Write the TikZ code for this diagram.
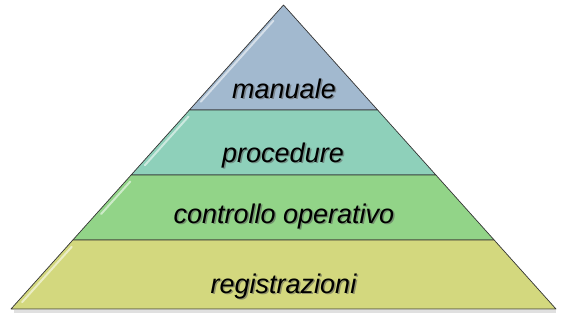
\documentclass[tikz,border=0pt]{standalone}
\usepackage{fontspec}
\setmainfont{Liberation Sans}
\usepackage{tikz}
\usetikzlibrary{calc}
\definecolor{layManual}{RGB}{162,185,207}
\definecolor{layProc}{RGB}{142,208,186}
\definecolor{layCtrl}{RGB}{146,212,136}
\definecolor{layReg}{RGB}{211,216,126}
\begin{document}
\begin{tikzpicture}[x=1pt,y=-1pt,
  layer/.style={draw=black!80,line width=0.7pt,line join=round},
  lab/.style={font=\fontsize{27}{31}\selectfont\itshape,anchor=base,inner sep=0pt},
  gloss/.style={white,line width=2pt,line cap=round,opacity=0.55}]
\useasboundingbox (0,0) rectangle (567,319);
% Pyramid corners and layer boundaries.
\coordinate (apex) at (283.5,5);
\coordinate (bl) at (11,309);
\coordinate (br) at (556,309);
\foreach \n/\f in {1/0.3454,2/0.5592,3/0.7730}{
  \coordinate (l\n) at ($(apex)!\f!(bl)$);
  \coordinate (r\n) at ($(apex)!\f!(br)$);
}
% Soft shadow under the base.
\draw[black!12,line width=2.5pt] ($(bl)+(3,2.5)$) -- ($(br)+(0,2.5)$);
% Layers, top to bottom.
\filldraw[layer,fill=layManual] (apex) -- (l1) -- (r1) -- cycle;
\filldraw[layer,fill=layProc] (l1) -- (l2) -- (r2) -- (r1) -- cycle;
\filldraw[layer,fill=layCtrl] (l2) -- (l3) -- (r3) -- (r2) -- cycle;
\filldraw[layer,fill=layReg] (l3) -- (bl) -- (br) -- (r3) -- cycle;
% Glossy streaks along the left edges.
\draw[gloss] ($(apex)!0.15!(l1)+(4,0)$) -- ($(apex)!0.92!(l1)+(4,0)$);
\draw[gloss] ($(l1)!0.1!(l2)+(5,0)$) -- ($(l1)!0.85!(l2)+(5,0)$);
\draw[gloss] ($(l2)!0.1!(l3)+(5,0)$) -- ($(l2)!0.6!(l3)+(5,0)$);
\draw[gloss] ($(l3)!0.1!(bl)+(5,0)$) -- ($(l3)!0.9!(bl)+(5,0)$);
% Labels with their shadows.
\foreach \nm/\x/\y/\txt in {manuale/284/98/manuale,procedure/283/162/procedure,
    controllo/284/223/controllo operativo,registrazioni/283.5/293/registrazioni}{
  \node[lab,text=black!65,opacity=.55] (\nm-sh) at (\x+1.5,\y+1.5) {\txt};
  \node[lab] (\nm) at (\x,\y) {\txt};
}
\end{tikzpicture}
\end{document}
